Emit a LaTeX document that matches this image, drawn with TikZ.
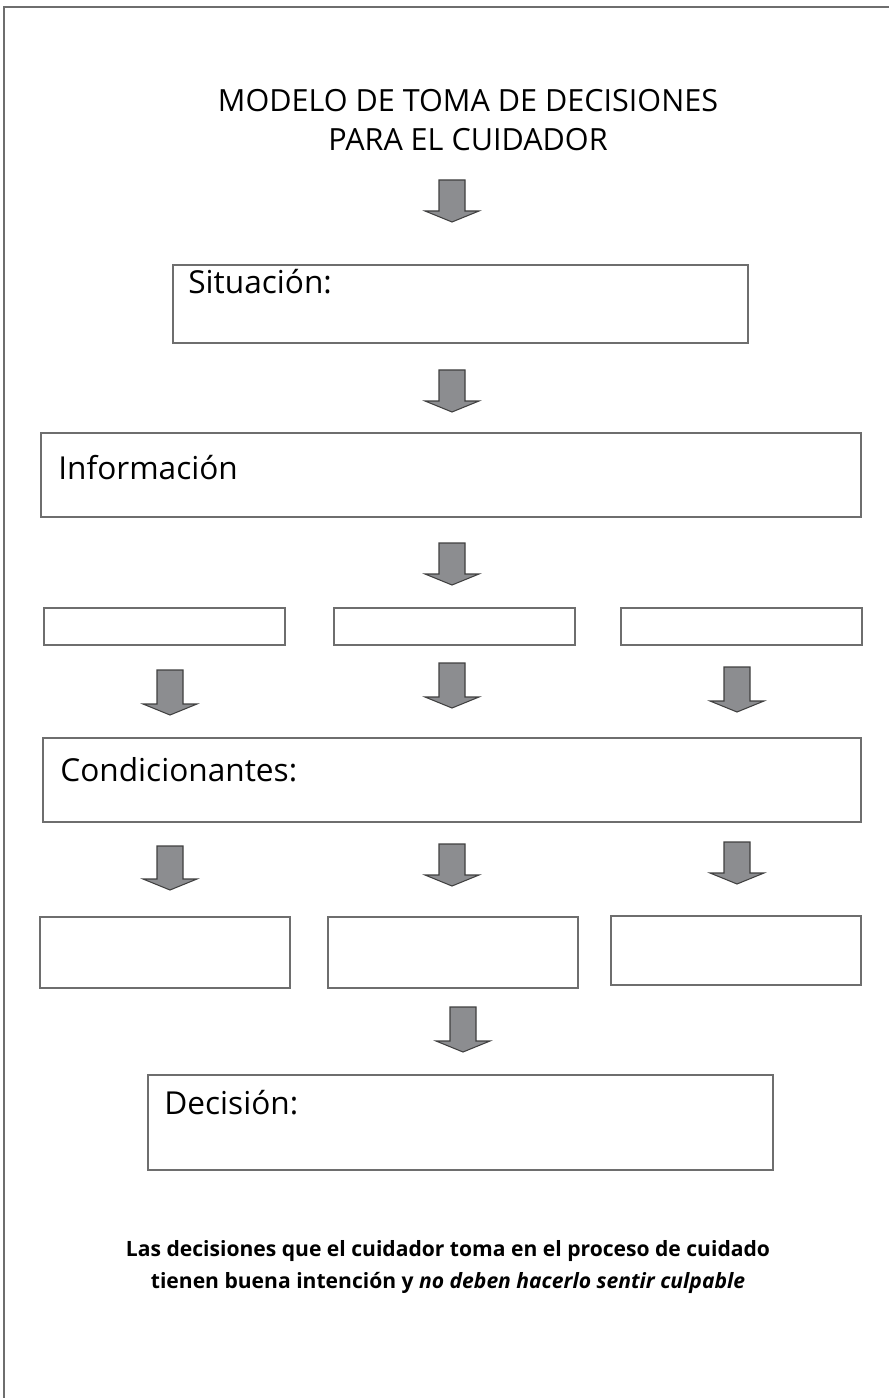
\documentclass[tikz,border=0pt]{standalone}
\usepackage{fontspec}
\setmainfont{Open Sans}
\definecolor{flechagris}{HTML}{8C8D90}
\definecolor{bordegris}{HTML}{6E6E6E}
\tikzset{
  caja/.style={draw=bordegris, line width=0.6pt},
  flecha/.style={draw=black!75, fill=flechagris, line width=0.6pt, line join=miter},
  rotulo/.style={anchor=base west, inner sep=0pt, font=\fontsize{18}{21}\selectfont},
}
% block arrow: centre x, top y, bottom y
\newcommand{\flechaabajo}[3]{%
  \draw[flecha] (#1-13,#2) -- (#1+13,#2) -- (#1+13,#3-11) -- (#1+27,#3-11)
    -- (#1,#3) -- (#1-27,#3-11) -- (#1-13,#3-11) -- cycle;}
\begin{document}
\begin{tikzpicture}[x=0.02cm, y=-0.02cm]
\useasboundingbox (0,0) rectangle (889,1398);

% frame
\draw[bordegris, line width=0.8pt] (4,1398) -- (4,7) -- (889,7);

\node[align=center, font=\fontsize{17.4}{22}\selectfont] (titulo) at (468,120)
  {MODELO DE TOMA DE DECISIONES\\PARA EL CUIDADOR};

% boxes
\draw[caja] (173,265) rectangle (748,343);
\draw[caja] (41,433) rectangle (861,517);
\draw[caja] (44,608) rectangle (285,645);
\draw[caja] (334,608) rectangle (575,645);
\draw[caja] (621,608) rectangle (862,645);
\draw[caja] (43,738) rectangle (861,822);
\draw[caja] (40,917) rectangle (290,988);
\draw[caja] (328,917) rectangle (578,988);
\draw[caja] (611,916) rectangle (861,985);
\draw[caja] (148,1075) rectangle (773,1170);

\node[rotulo] (situacion) at (188,294) {Situación:};
\node[rotulo] (informacion) at (58,479) {Información};
\node[rotulo] (condicion) at (60,781) {Condicionantes:};
\node[rotulo] (decision) at (164,1114) {Decisión:};

% arrows
\flechaabajo{452}{180}{222}
\flechaabajo{452}{370}{412}
\flechaabajo{452}{543}{585}
\flechaabajo{170}{670}{715}
\flechaabajo{452}{663}{708}
\flechaabajo{737}{667}{712}
\flechaabajo{170}{846}{890}
\flechaabajo{452}{844}{886}
\flechaabajo{737}{842}{884}
\flechaabajo{463}{1007}{1052}

\node[align=center, font=\bfseries\fontsize{12}{18}\selectfont] (nota) at (448,1267)
  {Las decisiones que el cuidador toma en el proceso de cuidado\\
   tienen buena intención y \textit{no deben hacerlo sentir culpable}};

\end{tikzpicture}
\end{document}
